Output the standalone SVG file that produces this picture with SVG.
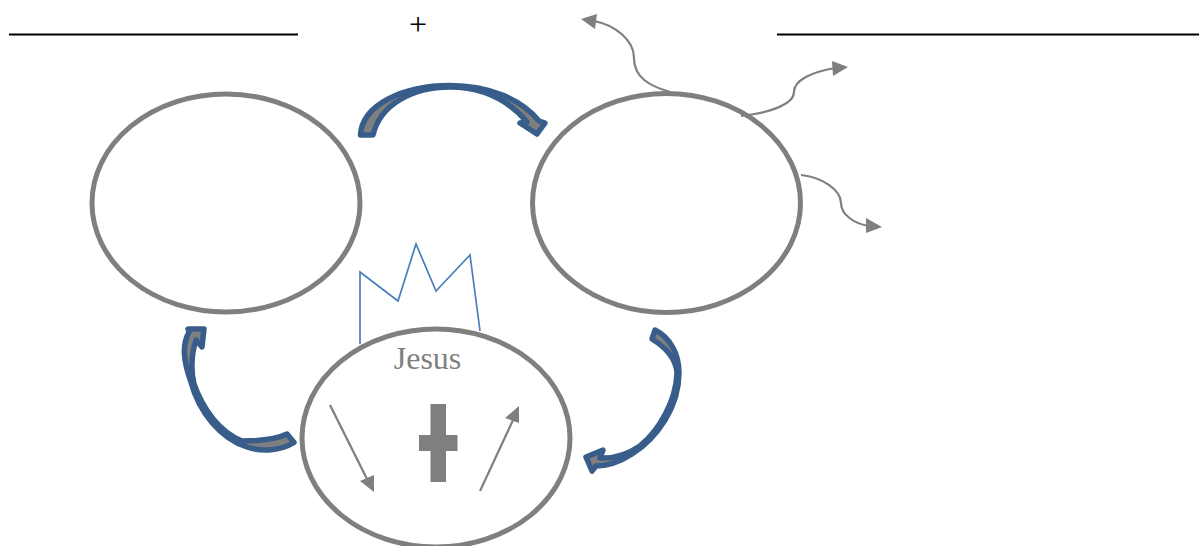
<svg xmlns="http://www.w3.org/2000/svg" width="1199" height="546" viewBox="0 0 1199 546">
<style>
.e{fill:#fff;stroke:#7f7f7f;stroke-width:5}
.b{fill:#7f7f7f;stroke:#385d8a;stroke-width:5.500;stroke-linejoin:round}
.c{fill:none;stroke:#7f7f7f;stroke-width:2.200}
.h{fill:#7f7f7f}
.u{stroke:#000;stroke-width:2}
text{font-family:"Liberation Serif",serif}
</style>
<rect width="1199" height="546" fill="#fff"/>
<g id="blanks">
<line class="u" x1="9" y1="34.500" x2="298" y2="34.500"/>
<line class="u" x1="777" y1="34.500" x2="1199" y2="34.500"/>
<text x="418" y="35" font-size="32" text-anchor="middle" fill="#000">+</text>
</g>
<g id="node-left"><ellipse class="e" cx="226" cy="203" rx="134" ry="109"/></g>
<g id="node-right"><ellipse class="e" cx="666.500" cy="203" rx="134" ry="109.500"/></g>
<g id="node-jesus">
<ellipse class="e" cx="436" cy="438" rx="134" ry="109"/>
<text x="427.500" y="369" font-size="32" text-anchor="middle" fill="#7f7f7f">Jesus</text>
<path class="h" d="M430.500 404H446V435H457.500V451H446V482H430.500V451H419V435H430.500Z"/>
</g>
<g id="crown"><path d="M360 344V272L398 301L416 244L436 291L470 255L480 331" fill="none" stroke="#4a7ebb" stroke-width="1.700" stroke-linejoin="miter"/></g>
<g id="connectors">
<path class="b" d="M360.500 135C362 105 403 85.500 450 85.500C490 85.500 522 100 539 121L545 123L537 134L520 123L527 122C510 102 485 87 450 87C412 87 380 105 373 135Z"/>
<path class="b" d="M655 330C671 338 679 355 679 373C679 407 657 438 632 454C618 463 606 466 596 466L592 471L586 457L603 450L600 458C615 459 628 454 640 446C660 430 676 400 677 373C676 358 665 347 652 339Z"/>
<path class="b" d="M294 442.500C280 451 262 452 247 447C220 438 199 412 191 382C183 360 182 345 189 332L188 329L204 329L202 347L196 340C191 355 191 372 194 384C203 410 220 432 242 441C258 441 275 440 287 434Z"/>
<path class="c" d="M670 92C650 86 634 78 634 58C634 40 615 25 594 21"/>
<path class="h" d="M581 19L597 14L595 29Z"/>
<path class="c" d="M741 116C770 113 794 104 794 92C794 80 812 72 835 68"/>
<path class="h" d="M848 67L832 61L833 76Z"/>
<path class="c" d="M801 175C822 177 841 190 841 203C841 215 855 224 869 226"/>
<path class="h" d="M882 227L866 218L866 233Z"/>
<line class="c" x1="330" y1="405" x2="367" y2="479"/>
<path class="h" d="M374 492L360 481L374 475Z"/>
<line class="c" x1="480" y1="491" x2="514" y2="418"/>
<path class="h" d="M519 406L505 418L519 423Z"/>
</g>
</svg>
